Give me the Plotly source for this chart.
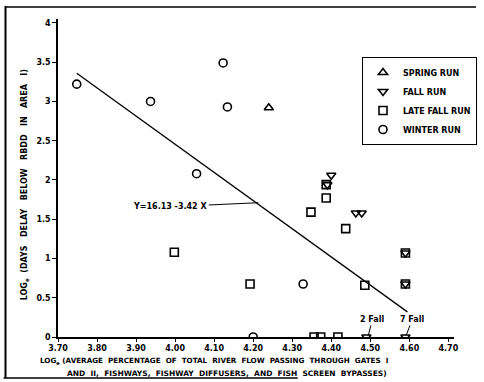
import plotly.graph_objects as go

# Data
spring_x = [4.24]
spring_y = [2.92]

fall_x = [4.40, 4.39, 4.463, 4.478, 4.59, 4.59, 4.49, 4.59]
fall_y = [2.06, 1.94, 1.58, 1.58, 1.07, 0.675, 0.0, 0.0]

latefall_x = [3.998, 4.192, 4.348, 4.387, 4.387, 4.437, 4.486, 4.59, 4.59, 4.356, 4.373, 4.417]
latefall_y = [1.08, 0.675, 1.59, 1.77, 1.94, 1.38, 0.66, 1.07, 0.675, 0.0, 0.0, 0.0]

winter_x = [3.748, 3.937, 4.055, 4.123, 4.134, 4.328, 4.20]
winter_y = [3.22, 3.0, 2.08, 3.49, 2.93, 0.675, 0.0]

line_x = [3.748, 4.595]
line_y = [3.36, 0.32]

x_ticks = [3.70, 3.80, 3.90, 4.00, 4.10, 4.20, 4.30, 4.40, 4.50, 4.60, 4.70]
x_tick_labels = ["3.70", "3.80", "3.90", "4.00", "4.10", "4.20", "4.30", "4.40", "4.50", "4.60", "4.70"]
y_ticks = [0, 0.5, 1, 1.5, 2, 2.5, 3, 3.5, 4]
y_tick_labels = ["0", "0.5", "1", "1.5", "2", "2.5", "3", "3.5", "4"]

FONT = "DejaVu Sans"
mk = dict(color="rgba(0,0,0,0)", size=8, line=dict(color="black", width=1.6))

fig = go.Figure()
fig.add_trace(go.Scatter(x=line_x, y=line_y, mode="lines", line=dict(color="black", width=1.3),
                         showlegend=False, hoverinfo="skip"))
fig.add_trace(go.Scatter(x=spring_x, y=spring_y, mode="markers", name="<b>SPRING RUN</b>",
                         marker=dict(symbol="triangle-up", **mk)))
fig.add_trace(go.Scatter(x=fall_x, y=fall_y, mode="markers", name="<b>FALL RUN</b>",
                         marker=dict(symbol="triangle-down", **mk)))
fig.add_trace(go.Scatter(x=latefall_x, y=latefall_y, mode="markers", name="<b>LATE FALL RUN</b>",
                         marker=dict(symbol="square", **mk)))
fig.add_trace(go.Scatter(x=winter_x, y=winter_y, mode="markers", name="<b>WINTER RUN</b>",
                         marker=dict(symbol="circle", **mk)))

L, R, T, B = 58, 3, 19, 45
W, H = 484, 382
AX_RIGHT = 458
pw, ph = W - L - R, H - T - B

def px(xp):
    return (xp - L) / pw

def py(yp):
    return (H - B - yp) / ph

annotations = [
    dict(x=4.213, y=1.71, xref="x", yref="y", text="<b>Y=16.13 -3.42 X</b>", showarrow=True,
         arrowhead=0, arrowwidth=1, arrowcolor="black", ax=-88, ay=4,
         font=dict(family=FONT, size=8, color="black")),
    dict(x=4.495, y=0.02, xref="x", yref="y", text="<b>2 Fall</b>", showarrow=True,
         arrowhead=0, arrowwidth=1, arrowcolor="black", ax=4, ay=-16,
         font=dict(family=FONT, size=8, color="black")),
    dict(x=4.592, y=0.02, xref="x", yref="y", text="<b>7 Fall</b>", showarrow=True,
         arrowhead=0, arrowwidth=1, arrowcolor="black", ax=6, ay=-16,
         font=dict(family=FONT, size=8, color="black")),
    dict(x=px(25), y=py(185), xref="paper", yref="paper", textangle=-90, showarrow=False,
         xanchor="center", yanchor="middle",
         text="<b>LOG<sub>e</sub>&nbsp;&nbsp;(DAYS&nbsp;&nbsp;&nbsp;DELAY&nbsp;&nbsp;&nbsp;BELOW&nbsp;&nbsp;&nbsp;RBDD&nbsp;&nbsp;&nbsp;IN&nbsp;&nbsp;&nbsp;AREA&nbsp;&nbsp;&nbsp;I)</b>",
         font=dict(family=FONT, size=8, color="black")),
    dict(x=px(216), y=py(361), xref="paper", yref="paper", showarrow=False,
         xanchor="center", yanchor="middle",
         text="<b>LOG<sub>e</sub> (AVERAGE&nbsp;&nbsp;PERCENTAGE&nbsp;&nbsp;OF&nbsp;&nbsp;TOTAL&nbsp;&nbsp;RIVER&nbsp;&nbsp;FLOW&nbsp;&nbsp;PASSING&nbsp;&nbsp;THROUGH&nbsp;&nbsp;GATES&nbsp;&nbsp;I</b>",
         font=dict(family=FONT, size=7.2, color="black")),
    dict(x=px(229), y=py(373), xref="paper", yref="paper", showarrow=False,
         xanchor="center", yanchor="middle",
         text="<b>AND&nbsp;&nbsp;II,&nbsp;&nbsp;FISHWAYS,&nbsp;&nbsp;FISHWAY&nbsp;&nbsp;DIFFUSERS,&nbsp;&nbsp;AND&nbsp;&nbsp;FISH&nbsp;&nbsp;SCREEN&nbsp;&nbsp;BYPASSES)</b>",
         font=dict(family=FONT, size=7.5, color="black")),
]

shapes = [
    dict(type="line", xref="paper", yref="paper", x0=px(5), x1=px(5), y0=py(6), y1=py(378),
         line=dict(color="black", width=2)),
    dict(type="line", xref="paper", yref="paper", x0=px(5), x1=px(480), y0=py(7), y1=py(7),
         line=dict(color="black", width=1.5)),
    dict(type="line", xref="paper", yref="paper", x0=px(3), x1=px(300), y0=py(378), y1=py(378),
         line=dict(color="black", width=1.5)),
]

fig.update_layout(
    width=W, height=H,
    margin=dict(l=L, r=R, t=T, b=B),
    plot_bgcolor="white", paper_bgcolor="white",
    font=dict(family=FONT, size=8, color="black"),
    showlegend=True,
    legend=dict(x=1.0, y=py(57), xanchor="right", yanchor="top",
                bordercolor="black", borderwidth=1, bgcolor="white",
                font=dict(family=FONT, size=8, color="black"),
                itemwidth=30, tracegroupgap=0),
    annotations=annotations,
    shapes=shapes,
)
fig.update_xaxes(domain=[0, px(AX_RIGHT)], range=[3.70, 4.715], tickvals=x_ticks,
                 ticktext=["<b>%s</b>" % t for t in x_tick_labels],
                 showgrid=False, zeroline=False, showline=True, linecolor="black", linewidth=1.5,
                 ticks="outside", ticklen=3, tickcolor="black", tickfont=dict(family=FONT, size=8))
fig.update_yaxes(range=[0, 4.05], tickvals=y_ticks, ticktext=["<b>%s</b>" % t for t in y_tick_labels],
                 showgrid=False, zeroline=False, showline=True, linecolor="black", linewidth=1.5,
                 ticks="outside", ticklen=4, tickcolor="black", tickfont=dict(family=FONT, size=8))

fig.write_html("out.html", config=dict(displayModeBar=False),
               post_script="document.body.style.margin='0';")
